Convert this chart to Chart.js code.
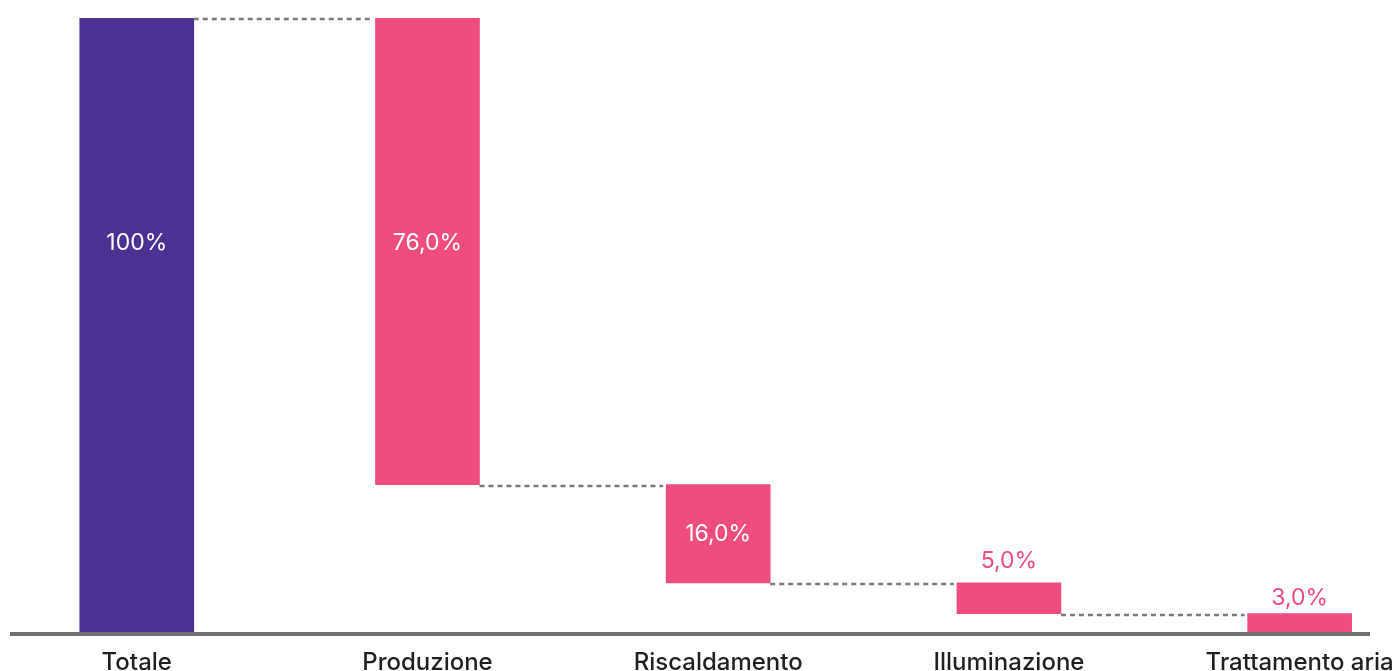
<!DOCTYPE html>
<html>
<head>
<meta charset="utf-8">
<script src="https://cdn.jsdelivr.net/npm/chart.js@4"></script>
<style>
  html, body { margin: 0; padding: 0; background: #fff; }
  #wrap { width: 1398px; height: 671px; position: relative; }
</style>
</head>
<body>
<div id="wrap"><canvas id="waterfall"></canvas></div>
<script>
// Chart data
const categories = ['Totale', 'Produzione', 'Riscaldamento', 'Illuminazione', 'Trattamento aria'];
const shares = [100, 76, 16, 5, 3];
const valueLabels = ['100%', '76,0%', '16,0%', '5,0%', '3,0%'];

const purple = '#4B3292';
const pink = '#EF4C80';
const dashGrey = '#7a7a7a';
const axisGrey = '#6D6E71';

// Floating ranges: total from 0, then each part hangs from the running total
const ranges = [];
let running = shares[0];
ranges.push([0, shares[0]]);
for (let i = 1; i < shares.length; i++) {
    ranges.push([running - shares[i], running]);
    running -= shares[i];
}

const totalData = [{ x: 0, y: ranges[0] }];
const partData = ranges.slice(1).map((r, i) => ({ x: i + 1, y: r }));

Chart.defaults.font.family = 'Inter, "Noto Sans", sans-serif';

// Dashed connectors, axis line and value labels
const waterfallExtras = {
    id: 'waterfallExtras',
    beforeDatasetsDraw(chart) {
        const ctx = chart.ctx;
        const area = chart.chartArea;
        ctx.save();
        ctx.strokeStyle = axisGrey;
        ctx.lineWidth = 4;
        ctx.beginPath();
        ctx.moveTo(area.left, area.bottom + 2);
        ctx.lineTo(area.right, area.bottom + 2);
        ctx.stroke();
        ctx.restore();
    },
    afterDatasetsDraw(chart) {
        const ctx = chart.ctx;
        const yScale = chart.scales.y;
        const bars = [chart.getDatasetMeta(0).data[0]].concat(chart.getDatasetMeta(1).data);

        // connectors
        ctx.save();
        ctx.strokeStyle = dashGrey;
        ctx.lineWidth = 2.5;
        ctx.setLineDash([5, 4]);
        for (let i = 0; i < bars.length - 1; i++) {
            const a = bars[i], b = bars[i + 1];
            const y = Math.round(yScale.getPixelForValue(ranges[i + 1][1])) + 1;
            ctx.beginPath();
            ctx.moveTo(a.x + a.width / 2, y);
            ctx.lineTo(b.x - b.width / 2 - 3, y);
            ctx.stroke();
        }
        ctx.restore();

        // value labels
        ctx.save();
        ctx.font = '400 23px Inter, "Noto Sans", sans-serif';
        ctx.textAlign = 'center';
        ctx.textBaseline = 'middle';
        bars.forEach((bar, i) => {
            const top = yScale.getPixelForValue(ranges[i][1]);
            const bottom = yScale.getPixelForValue(ranges[i][0]);
            const h = bottom - top;
            if (h > 60) {
                ctx.fillStyle = '#ffffff';
                ctx.fillText(valueLabels[i], bar.x, top + Math.min(h / 2, 225));
            } else {
                ctx.fillStyle = pink;
                ctx.fillText(valueLabels[i], bar.x, top - Math.min(22, 6 + h / 2));
            }
        });
        ctx.restore();
    }
};

const ctx = document.getElementById('waterfall').getContext('2d');
const chart = new Chart(ctx, {
    type: 'bar',
    data: {
        datasets: [
            {
                label: 'Totale',
                data: totalData,
                backgroundColor: purple,
                barThickness: 114,
                grouped: false,
                borderSkipped: false
            },
            {
                label: 'Consumi',
                data: partData,
                backgroundColor: pink,
                barThickness: 104,
                grouped: false,
                borderSkipped: false
            }
        ]
    },
    options: {
        responsive: true,
        maintainAspectRatio: false,
        animation: false,
        layout: {
            padding: { left: 10, right: 28, top: 18, bottom: 0 }
        },
        plugins: {
            legend: { display: false },
            tooltip: { enabled: false }
        },
        scales: {
            x: {
                type: 'linear',
                offset: false,
                min: -0.436,
                max: 4.242,
                grid: { display: false, drawTicks: false, offset: false },
                border: { display: false },
                afterBuildTicks: (scale) => {
                    scale.ticks = categories.map((c, i) => ({ value: i }));
                },
                afterFit: (scale) => {
                    scale.height = 39;
                    scale.paddingLeft = 0;
                    scale.paddingRight = 0;
                },
                ticks: {
                    autoSkip: false,
                    maxRotation: 0,
                    padding: 16,
                    color: '#231F20',
                    font: { size: 24, weight: '500' },
                    callback: (value) => categories[value]
                }
            },
            y: {
                display: false,
                min: 0,
                max: 100
            }
        }
    },
    plugins: [waterfallExtras]
});
</script>
</body>
</html>
